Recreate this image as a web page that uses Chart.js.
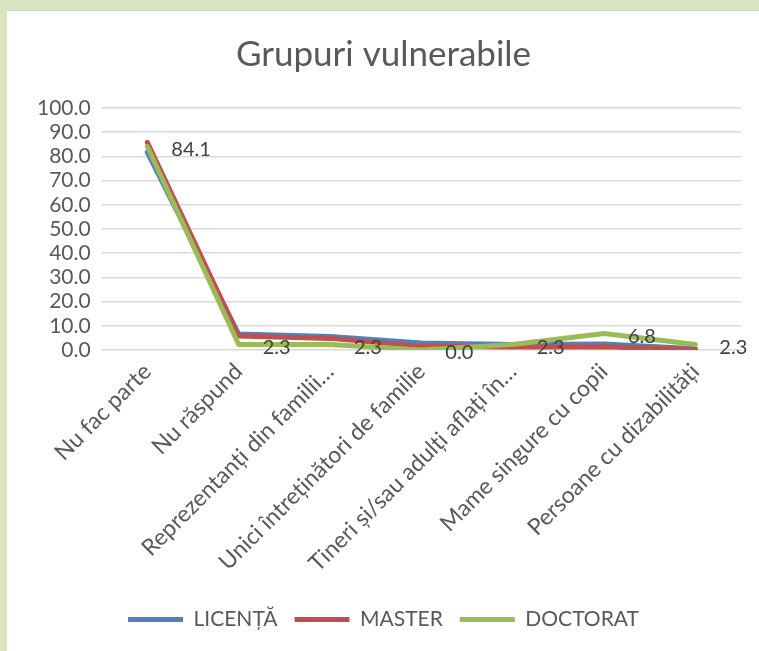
<!DOCTYPE html>
<html>
<head>
<meta charset="utf-8">
<script src="https://cdn.jsdelivr.net/npm/chart.js@4"></script>
<style>
  html, body { margin: 0; padding: 0; }
  body { width: 759px; height: 651px; background: #d8e4bd; position: relative; overflow: hidden; }
  #frame { position: absolute; left: 7px; top: 10px; width: 752px; height: 641px; background: #ffffff; border-top: 1px solid #d0d0d0; box-sizing: border-box; }
  #c { position: absolute; left: 0; top: 0; }
</style>
</head>
<body>
<div id="frame"><canvas id="c" width="752" height="640"></canvas></div>
<script>
const categories = [
  "Nu fac parte",
  "Nu răspund",
  "Reprezentanți din familii…",
  "Unici întreținători de familie",
  "Tineri și/sau adulți aflați în…",
  "Mame singure cu copii",
  "Persoane cu dizabilități"
];
const licentaValues = [81.7, 6.6, 5.6, 2.9, 2.3, 2.5, 0.5];
const masterValues = [85.8, 5.8, 4.8, 1.5, 1.2, 1.3, 0.2];
const doctoratValues = [84.1, 2.3, 2.3, 0.0, 2.3, 6.8, 2.3];
const seriesNames = ["LICENȚĂ", "MASTER", "DOCTORAT"];
const yTicks = [0, 10, 20, 30, 40, 50, 60, 70, 80, 90, 100];

const FONT = "Lato";
const TEXT = "#595959";

const labelPlugin = {
  id: 'greenLabels',
  afterDatasetsDraw(chart) {
    const ctx = chart.ctx;
    const meta = chart.getDatasetMeta(2);
    const data = chart.data.datasets[2].data;
    ctx.save();
    ctx.font = "20px " + FONT;
    ctx.fillStyle = "#404040";
    ctx.textAlign = "left";
    ctx.textBaseline = "middle";
    meta.data.forEach((pt, i) => {
      ctx.fillText(data[i].toFixed(1), pt.x + 24, pt.y + 3);
    });
    ctx.restore();
  }
};

new Chart(document.getElementById('c'), {
  type: 'line',
  data: {
    labels: categories,
    datasets: [
      { label: seriesNames[0], data: licentaValues, order: 2, borderColor: '#4f81bd', backgroundColor: '#4f81bd', borderWidth: 5, borderCapStyle: 'round', borderJoinStyle: 'round', pointRadius: 0, tension: 0 },
      { label: seriesNames[1], data: masterValues, order: 1, borderColor: '#c0504d', backgroundColor: '#c0504d', borderWidth: 5, borderCapStyle: 'round', borderJoinStyle: 'round', pointRadius: 0, tension: 0 },
      { label: seriesNames[2], data: doctoratValues, order: 0, borderColor: '#9bbb59', backgroundColor: '#9bbb59', borderWidth: 5, borderCapStyle: 'round', borderJoinStyle: 'round', pointRadius: 0, tension: 0 }
    ]
  },
  options: {
    responsive: false,
    animation: false,
    layout: { padding: { left: 19, right: 18, top: 0, bottom: 11 } },
    plugins: {
      title: {
        display: true,
        text: 'Grupuri vulnerabile',
        color: TEXT,
        font: { family: FONT, size: 35, weight: 'normal' },
        padding: { top: 23, bottom: 32 }
      },
      legend: {
        position: 'bottom',
        labels: {
          usePointStyle: true,
          pointStyle: 'line',
          pointStyleWidth: 55,
          boxHeight: 21,
          color: TEXT,
          font: { family: FONT, size: 21 },
          padding: 17,
          sort: (a, b) => a.datasetIndex - b.datasetIndex
        }
      },
      tooltip: { enabled: false }
    },
    scales: {
      x: {
        offset: true,
        grid: { display: false, drawTicks: false },
        border: { display: false },
        afterFit(axis) {
          axis.height = 242;
        },
        ticks: {
          color: TEXT,
          font: { family: FONT, size: 23 },
          maxRotation: 45,
          minRotation: 45,
          autoSkip: false,
          padding: 8
        }
      },
      y: {
        min: 0,
        max: 100,
        afterBuildTicks(axis) { axis.ticks = yTicks.map(v => ({ value: v })); },
        grid: { color: '#d9d9d9', lineWidth: 1.5, drawTicks: false },
        border: { display: false },
        ticks: {
          color: TEXT,
          font: { family: FONT, size: 21 },
          padding: 11,
          autoSkip: false,
          callback: v => Number(v).toFixed(1)
        }
      }
    }
  },
  plugins: [labelPlugin]
});
</script>
</body>
</html>
